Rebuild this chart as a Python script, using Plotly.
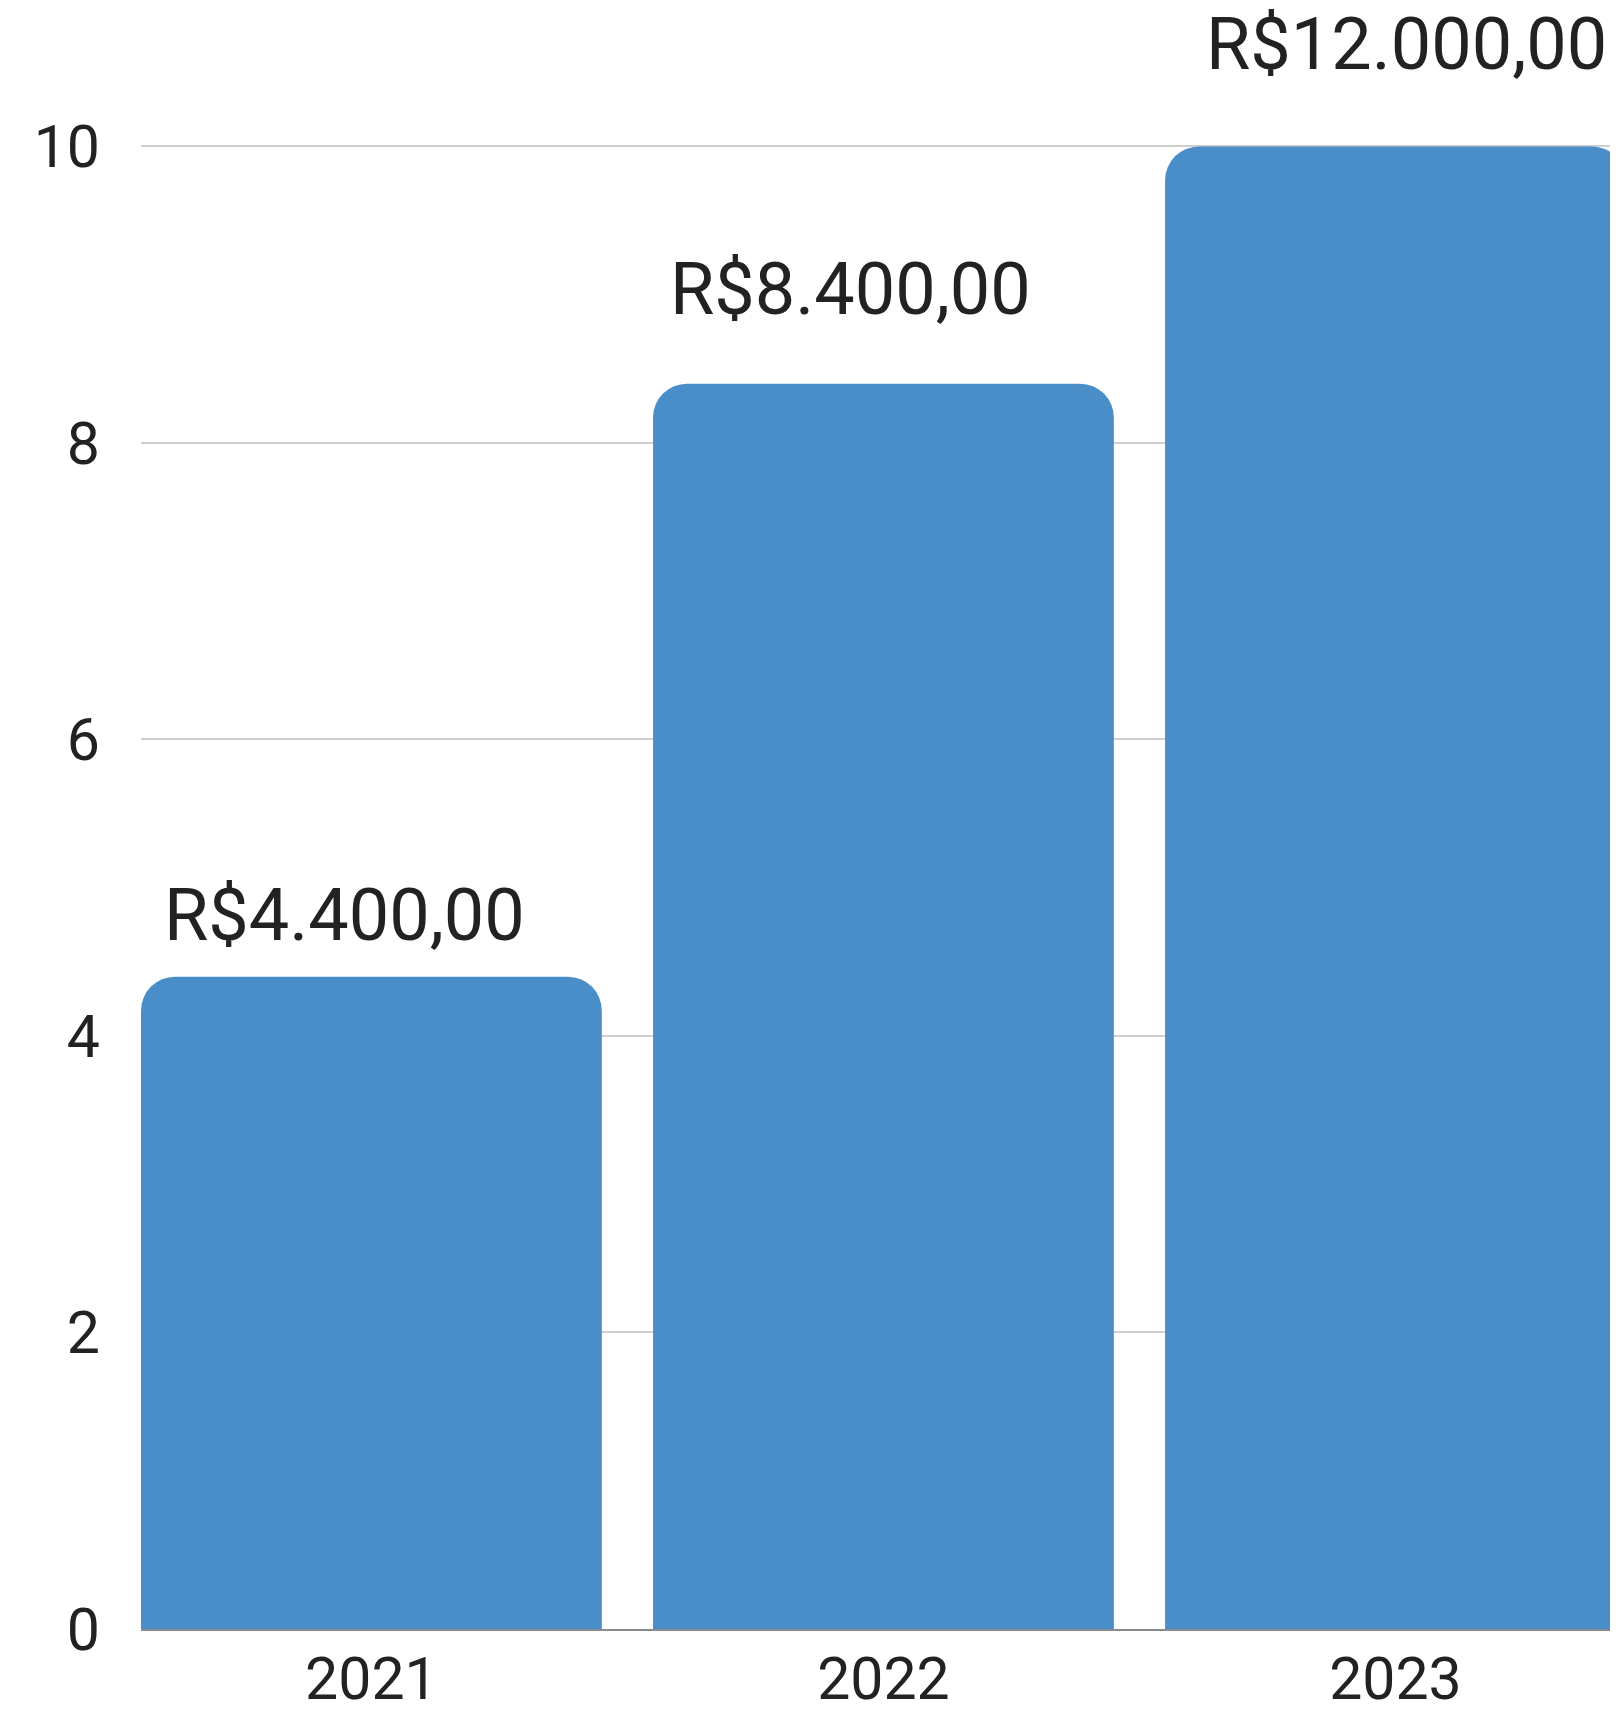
import plotly.graph_objects as go

years = ["2021", "2022", "2023"]
bar_values = [4.4, 8.4, 10]
value_labels = ["R$4.400,00", "R$8.400,00", "R$12.000,00"]
y_ticks = [0, 2, 4, 6, 8, 10]

label_xshift = [-27, -33, 11]
label_yshift = [17, 50, 57]

BAR_COLOR = "#4A8EC9"
TEXT_COLOR = "#222222"
FONT = "Roboto"

fig = go.Figure()
fig.add_trace(go.Bar(
    x=years, y=bar_values,
    marker=dict(color=BAR_COLOR, line=dict(width=0)),
    hoverinfo="skip",
))

for i, (v, lab, dx, dy) in enumerate(zip(bar_values, value_labels, label_xshift, label_yshift)):
    fig.add_annotation(
        xref="x", yref="y",
        x=i, y=v, text=lab, showarrow=False,
        xanchor="center", yanchor="bottom",
        xshift=dx, yshift=dy,
        font=dict(family=FONT, size=72, color=TEXT_COLOR),
    )

fig.update_layout(
    width=1602, height=1693,
    margin=dict(l=133, r=0, t=131, b=72, autoexpand=False),
    paper_bgcolor="white", plot_bgcolor="white",
    bargap=0.1,
    barcornerradius=34,
    showlegend=False,
    font=dict(family=FONT, color=TEXT_COLOR),
)
fig.update_xaxes(
    type="category",
    range=[-0.45, 2.419],
    showgrid=False,
    showline=True, linecolor="#8a8a8a", linewidth=2,
    ticks="", ticklabelstandoff=-3,
    tickfont=dict(family=FONT, size=59, color=TEXT_COLOR),
)
fig.update_yaxes(
    range=[0, 10.05],
    tickvals=y_ticks,
    showgrid=True, gridcolor="#cfcfcf", gridwidth=2,
    zeroline=False, showline=False,
    ticks="", ticklabelstandoff=40,
    tickfont=dict(family=FONT, size=59, color=TEXT_COLOR),
)

fig.write_html("out.html")
